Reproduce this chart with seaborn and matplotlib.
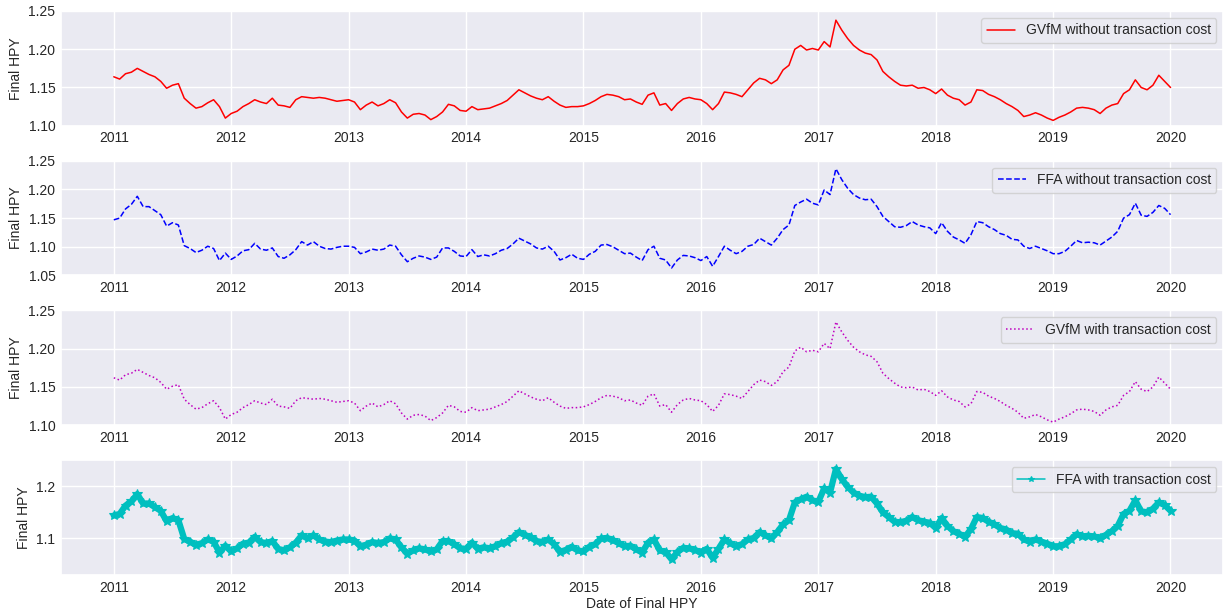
import numpy as np
import pandas as pd
import seaborn as sns
import matplotlib.pyplot as plt
import matplotlib.dates as mdates

# values, one every 0.05 year from 2011.00 to 2020.00
gvfm_no_tc = [
    1.164, 1.161, 1.168, 1.170, 1.175, 1.171, 1.167, 1.164, 1.158, 1.149, 1.153, 1.155, 1.136, 1.129, 1.123, 1.125, 1.130, 1.134, 1.125, 1.110,
    1.116, 1.119, 1.125, 1.129, 1.134, 1.131, 1.129, 1.136, 1.127, 1.126, 1.124, 1.134, 1.138, 1.137, 1.136, 1.137, 1.136, 1.134, 1.132, 1.133,
    1.134, 1.131, 1.121, 1.127, 1.131, 1.126, 1.129, 1.134, 1.130, 1.118, 1.110, 1.115, 1.116, 1.114, 1.108, 1.112, 1.118, 1.128, 1.126, 1.120,
    1.119, 1.125, 1.121, 1.122, 1.123, 1.126, 1.129, 1.133, 1.140, 1.147, 1.143, 1.139, 1.136, 1.134, 1.138, 1.132, 1.127, 1.124, 1.125, 1.125,
    1.126, 1.129, 1.133, 1.138, 1.141, 1.140, 1.138, 1.134, 1.135, 1.131, 1.128, 1.140, 1.143, 1.127, 1.129, 1.120, 1.129, 1.135, 1.137, 1.135,
    1.134, 1.129, 1.121, 1.129, 1.144, 1.143, 1.141, 1.138, 1.147, 1.156, 1.162, 1.160, 1.155, 1.160, 1.173, 1.179, 1.200, 1.205, 1.199, 1.201,
    1.199, 1.210, 1.203, 1.238, 1.225, 1.214, 1.205, 1.199, 1.195, 1.193, 1.186, 1.171, 1.164, 1.158, 1.153, 1.152, 1.153, 1.149, 1.150, 1.147,
    1.142, 1.148, 1.140, 1.136, 1.134, 1.127, 1.131, 1.147, 1.146, 1.141, 1.138, 1.134, 1.129, 1.125, 1.120, 1.112, 1.114, 1.117, 1.114, 1.110,
    1.107, 1.111, 1.114, 1.118, 1.123, 1.124, 1.123, 1.121, 1.116, 1.123, 1.127, 1.129, 1.142, 1.147, 1.160, 1.150, 1.147, 1.153, 1.166, 1.158,
    1.150,
]
ffa_no_tc = [
    1.147, 1.150, 1.166, 1.174, 1.188, 1.170, 1.170, 1.163, 1.156, 1.136, 1.142, 1.138, 1.102, 1.097, 1.090, 1.094, 1.101, 1.097, 1.076, 1.089,
    1.078, 1.084, 1.093, 1.095, 1.106, 1.096, 1.094, 1.098, 1.083, 1.080, 1.086, 1.095, 1.109, 1.103, 1.109, 1.101, 1.097, 1.096, 1.099, 1.101,
    1.101, 1.099, 1.088, 1.091, 1.096, 1.094, 1.096, 1.103, 1.101, 1.086, 1.074, 1.080, 1.084, 1.082, 1.078, 1.082, 1.098, 1.098, 1.092, 1.084,
    1.083, 1.095, 1.083, 1.086, 1.084, 1.088, 1.094, 1.097, 1.105, 1.115, 1.110, 1.105, 1.098, 1.096, 1.101, 1.092, 1.077, 1.081, 1.087, 1.080,
    1.078, 1.087, 1.092, 1.103, 1.104, 1.100, 1.094, 1.088, 1.089, 1.082, 1.076, 1.095, 1.101, 1.080, 1.077, 1.063, 1.077, 1.085, 1.084, 1.081,
    1.076, 1.083, 1.066, 1.083, 1.101, 1.094, 1.088, 1.092, 1.101, 1.104, 1.115, 1.109, 1.103, 1.115, 1.130, 1.138, 1.172, 1.178, 1.183, 1.176,
    1.173, 1.199, 1.191, 1.236, 1.217, 1.202, 1.191, 1.185, 1.182, 1.183, 1.170, 1.153, 1.144, 1.135, 1.134, 1.137, 1.144, 1.138, 1.135, 1.133,
    1.123, 1.142, 1.127, 1.117, 1.112, 1.106, 1.121, 1.144, 1.142, 1.135, 1.130, 1.123, 1.120, 1.113, 1.112, 1.101, 1.097, 1.101, 1.097, 1.093,
    1.088, 1.088, 1.092, 1.101, 1.111, 1.107, 1.108, 1.107, 1.103, 1.110, 1.117, 1.127, 1.150, 1.156, 1.176, 1.155, 1.153, 1.160, 1.172, 1.167,
    1.156,
]
gvfm_tc = [
    1.162, 1.159, 1.166, 1.168, 1.173, 1.169, 1.165, 1.162, 1.156, 1.147, 1.151, 1.153, 1.134, 1.127, 1.121, 1.123, 1.128, 1.132, 1.123, 1.108,
    1.114, 1.117, 1.123, 1.127, 1.132, 1.129, 1.127, 1.134, 1.125, 1.124, 1.122, 1.132, 1.136, 1.135, 1.134, 1.135, 1.134, 1.132, 1.130, 1.131,
    1.132, 1.129, 1.119, 1.125, 1.129, 1.124, 1.127, 1.132, 1.128, 1.116, 1.108, 1.113, 1.114, 1.112, 1.106, 1.110, 1.116, 1.126, 1.124, 1.118,
    1.117, 1.123, 1.119, 1.120, 1.121, 1.124, 1.127, 1.131, 1.138, 1.145, 1.141, 1.137, 1.134, 1.132, 1.136, 1.130, 1.125, 1.122, 1.123, 1.123,
    1.124, 1.127, 1.131, 1.136, 1.139, 1.138, 1.136, 1.132, 1.133, 1.129, 1.126, 1.138, 1.141, 1.125, 1.127, 1.117, 1.127, 1.133, 1.135, 1.133,
    1.132, 1.127, 1.118, 1.126, 1.141, 1.140, 1.138, 1.135, 1.144, 1.153, 1.159, 1.157, 1.152, 1.157, 1.170, 1.176, 1.197, 1.202, 1.196, 1.198,
    1.196, 1.207, 1.200, 1.235, 1.222, 1.211, 1.202, 1.196, 1.192, 1.190, 1.183, 1.168, 1.161, 1.155, 1.150, 1.149, 1.150, 1.146, 1.147, 1.144,
    1.139, 1.145, 1.137, 1.133, 1.131, 1.124, 1.128, 1.144, 1.143, 1.138, 1.135, 1.131, 1.126, 1.122, 1.117, 1.109, 1.111, 1.114, 1.111, 1.107,
    1.104, 1.108, 1.111, 1.115, 1.120, 1.121, 1.120, 1.118, 1.113, 1.120, 1.124, 1.126, 1.139, 1.144, 1.157, 1.147, 1.144, 1.150, 1.163, 1.155,
    1.147,
]
ffa_tc = [
    1.144, 1.147, 1.163, 1.171, 1.185, 1.167, 1.167, 1.160, 1.153, 1.133, 1.139, 1.135, 1.099, 1.094, 1.087, 1.091, 1.098, 1.094, 1.073, 1.086,
    1.075, 1.081, 1.090, 1.092, 1.103, 1.093, 1.091, 1.095, 1.080, 1.077, 1.083, 1.092, 1.106, 1.100, 1.106, 1.098, 1.094, 1.093, 1.096, 1.098,
    1.098, 1.096, 1.085, 1.088, 1.093, 1.091, 1.093, 1.100, 1.098, 1.083, 1.071, 1.077, 1.081, 1.079, 1.075, 1.079, 1.095, 1.095, 1.089, 1.081,
    1.080, 1.092, 1.080, 1.083, 1.081, 1.085, 1.091, 1.094, 1.102, 1.112, 1.107, 1.102, 1.095, 1.093, 1.098, 1.089, 1.074, 1.078, 1.084, 1.077,
    1.075, 1.084, 1.089, 1.100, 1.101, 1.097, 1.091, 1.085, 1.086, 1.079, 1.073, 1.092, 1.098, 1.077, 1.074, 1.060, 1.074, 1.082, 1.081, 1.078,
    1.073, 1.080, 1.063, 1.080, 1.098, 1.091, 1.085, 1.089, 1.098, 1.101, 1.112, 1.106, 1.100, 1.112, 1.127, 1.135, 1.169, 1.175, 1.180, 1.173,
    1.170, 1.196, 1.188, 1.233, 1.214, 1.199, 1.188, 1.182, 1.179, 1.180, 1.167, 1.150, 1.141, 1.132, 1.131, 1.134, 1.141, 1.135, 1.132, 1.130,
    1.120, 1.139, 1.124, 1.114, 1.109, 1.103, 1.118, 1.141, 1.139, 1.132, 1.127, 1.120, 1.117, 1.110, 1.109, 1.098, 1.094, 1.098, 1.094, 1.090,
    1.085, 1.085, 1.089, 1.098, 1.108, 1.104, 1.105, 1.104, 1.100, 1.107, 1.114, 1.124, 1.147, 1.153, 1.173, 1.152, 1.150, 1.157, 1.169, 1.164,
    1.153,
]

labels = ["GVfM without transaction cost", "FFA without transaction cost",
          "GVfM with transaction cost", "FFA with transaction cost"]

# dates: 2011-01-01 onwards in steps of 0.05 year
dates = pd.Timestamp("2011-01-01") + pd.to_timedelta(np.arange(len(gvfm_no_tc)) * 0.05 * 365.25, unit="D")

sns.set_theme(style="darkgrid")
plt.rcParams["font.family"] = ["Liberation Sans", "DejaVu Sans"]

fig, axes = plt.subplots(4, 1, figsize=(12.24, 6.11), dpi=100)
fig.subplots_adjust(left=0.0498, right=0.9995, top=0.982, bottom=0.059, hspace=0.305)

series = [gvfm_no_tc, ffa_no_tc, gvfm_tc, ffa_tc]
styles = [dict(color="#ff0000", linestyle="-"),
          dict(color="#0000ff", linestyle="--"),
          dict(color="#bf00bf", linestyle=":"),
          dict(color="#00bfbf", linestyle="-", marker="*", markersize=7,
               markeredgecolor="#00bfbf", markeredgewidth=0.8)]
ylims = [(1.10, 1.25), (1.05, 1.25), (1.10, 1.25), (1.03, 1.25)]
yticks = [[1.10, 1.15, 1.20, 1.25], [1.05, 1.10, 1.15, 1.20, 1.25],
          [1.10, 1.15, 1.20, 1.25], [1.1, 1.2]]

for i, (ax, vals, lab, st, yl, yt) in enumerate(zip(axes, series, labels, styles, ylims, yticks)):
    df = pd.DataFrame({"date": dates, "hpy": vals})
    if i == 3:
        # thick band under the star markers (many daily points in the original)
        sns.lineplot(data=df, x="date", y="hpy", ax=ax, color="#00bfbf", linewidth=4.5, legend=False)
    sns.lineplot(data=df, x="date", y="hpy", ax=ax, linewidth=1.1, label=lab, **st)
    ax.set_ylim(yl)
    ax.set_yticks(yt)
    ax.set_ylabel("Final HPY", fontsize=10)
    ax.set_xlabel("")
    ax.xaxis.set_major_locator(mdates.YearLocator())
    ax.xaxis.set_major_formatter(mdates.DateFormatter("%Y"))
    ax.tick_params(labelsize=10, length=0, pad=4)
    ax.legend(loc="upper right", fontsize=10, markerscale=0.6)

axes[-1].set_xlabel("Date of Final HPY", fontsize=10, labelpad=2)

plt.savefig("out.png", dpi=100)
